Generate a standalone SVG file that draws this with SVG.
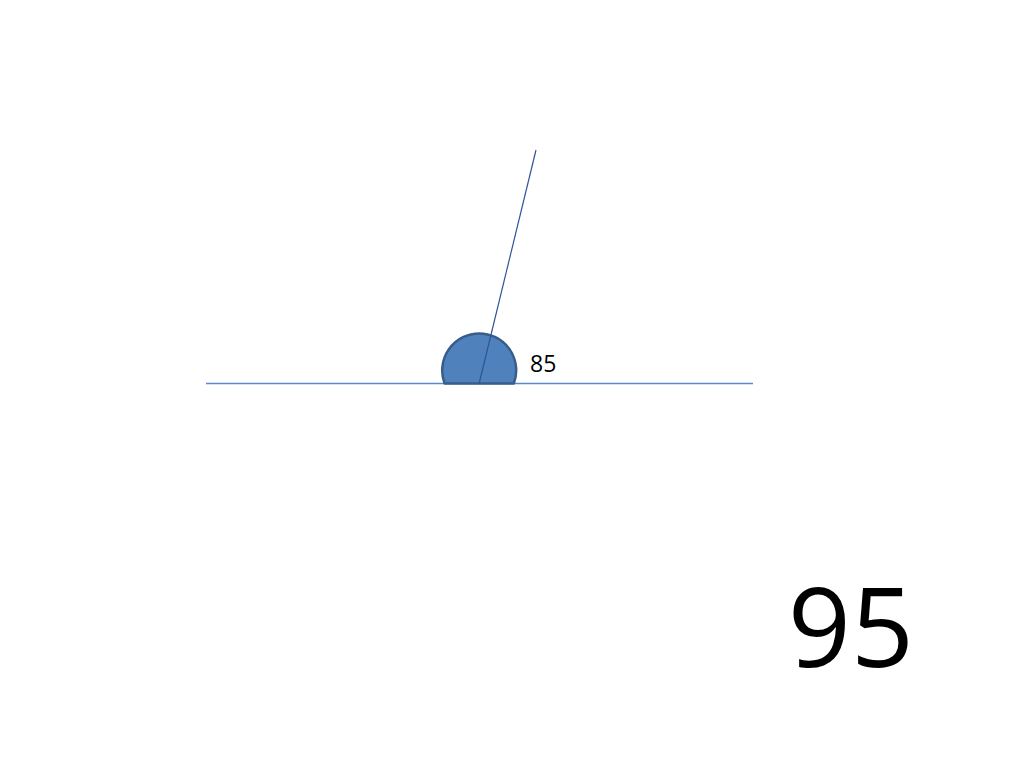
<svg xmlns="http://www.w3.org/2000/svg" width="1024" height="768" viewBox="0 0 1024 768">
<style>
.lbl{font-family:"Open Sans","Liberation Sans",sans-serif;fill:#000}
</style>
<rect width="1024" height="768" fill="#fff"/>
<g id="connectors">
<line x1="206" y1="383.5" x2="753" y2="383.5" stroke="#5B8AC9" stroke-width="1.3"/>
</g>
<g id="angle-marker">
<path d="M444.6,383.5 A37,37 0 1 1 513.8,383.5 Z" fill="#4F81BD" stroke="#385D8A" stroke-width="2.5" stroke-linejoin="round"/>
</g>
<g id="ray">
<line x1="536" y1="150" x2="479" y2="384" stroke="#2F5597" stroke-width="1.2"/>
</g>
<text class="lbl" x="530" y="372" font-size="23">85</text>
<text class="lbl" x="788" y="667" font-size="110">95</text>
</svg>
